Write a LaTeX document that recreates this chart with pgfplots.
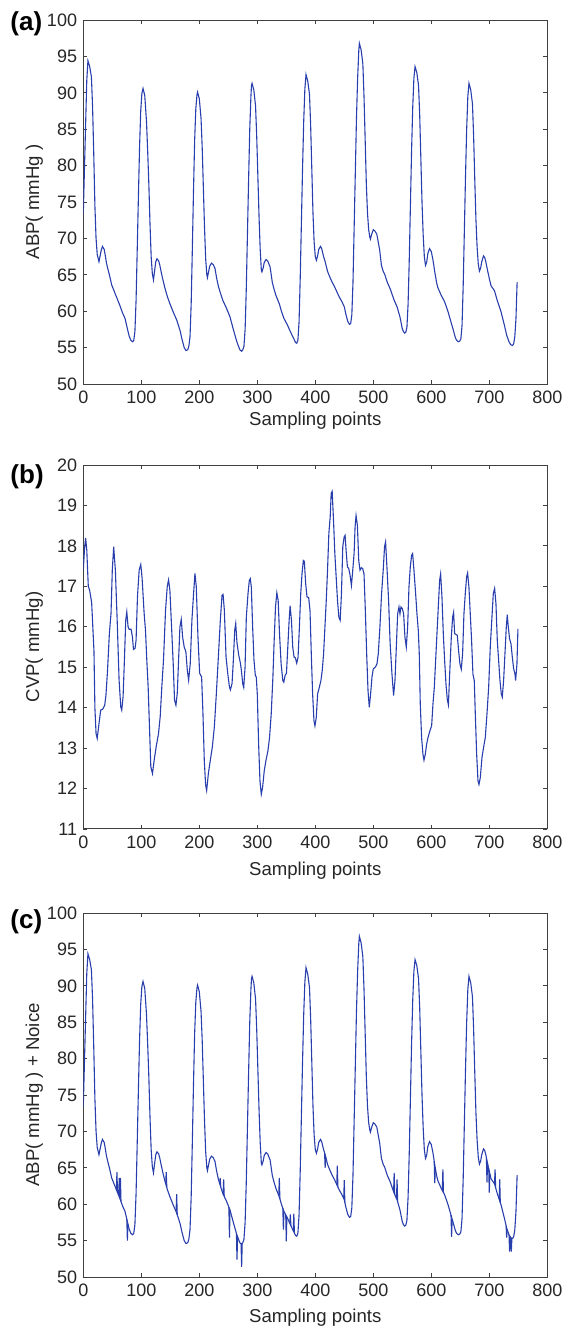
\documentclass[border=0pt]{standalone}
\usepackage{fontspec}
\setmainfont{Liberation Sans}
\usepackage{pgfplots}
\usepackage{pgfplotstable}
\pgfplotsset{compat=1.18}
\definecolor{trace}{RGB}{40,62,172}

% ABP waveform (sample, mmHg)
\pgfplotstableread[row sep=\\]{
x y\\
0 73.4\\ 3 82.6\\ 6 91.7\\ 8 94.4\\ 11 93.6\\ 14 92.2\\ 16 88.1\\ 18 81.7\\ 20 74.5\\ 22 70.0\\ 24 67.8\\ 27 66.8\\ 29 67.6\\ 31 68.4\\ 33 68.9\\ 36 68.5\\ 38 67.6\\ 40 66.6\\ 43 65.6\\ 45 65.0\\ 49 63.6\\ 52 63.0\\ 55 62.4\\ 59 61.6\\ 63 60.8\\ 68 59.7\\ 72 59.0\\ 76 57.6\\ 79 56.6\\ 82 56.0\\ 85 55.8\\ 87 56.0\\ 89 57.2\\
91 61.5\\ 93 68.5\\ 95 75.7\\ 97 82.5\\ 99 87.5\\ 101 89.9\\ 103 90.6\\ 106 89.6\\ 109 86.0\\ 111 82.0\\ 113 77.5\\ 115 72.0\\ 117 67.5\\ 119 65.2\\ 121 64.3\\ 123 65.6\\ 125 66.8\\ 127 67.2\\ 130 66.9\\ 132 66.3\\ 134 65.5\\ 137 64.4\\ 141 63.1\\ 145 62.0\\ 149 61.1\\ 155 59.9\\ 161 58.8\\ 167 57.3\\ 170 56.2\\ 174 55.0\\ 177 54.6\\ 180 54.7\\ 182 55.2\\ 184 56.5\\
186 61.0\\ 188 68.5\\ 190 76.5\\ 192 83.5\\ 194 87.8\\ 196 89.7\\ 197 90.1\\ 200 89.2\\ 203 86.5\\ 205 82.5\\ 207 77.0\\ 209 71.5\\ 211 67.2\\ 213 65.0\\ 214 64.6\\ 216 65.4\\ 218 66.2\\ 221 66.6\\ 224 66.4\\ 227 65.9\\ 230 64.5\\ 233 63.4\\ 236 62.6\\ 241 61.4\\ 247 60.4\\ 253 59.2\\ 258 57.7\\ 264 56.0\\ 267 55.3\\ 270 54.7\\ 273 54.5\\ 275 54.7\\ 277 55.2\\
279 57.5\\ 281 63.0\\ 283 70.5\\ 285 78.0\\ 287 85.0\\ 289 89.5\\ 290 91.0\\ 291 91.3\\ 294 90.4\\ 297 88.2\\ 299 84.0\\ 301 78.5\\ 303 73.0\\ 305 68.5\\ 307 65.6\\ 308 65.4\\ 310 65.9\\ 312 66.7\\ 315 67.1\\ 318 66.9\\ 322 66.1\\ 324 65.0\\ 326 63.9\\ 329 63.0\\ 332 62.2\\ 338 61.0\\ 342 59.9\\ 346 59.0\\ 352 58.1\\ 357 57.2\\ 363 56.2\\ 366 55.7\\ 368 55.6\\
370 56.0\\ 372 58.5\\ 374 64.5\\ 376 72.0\\ 378 79.5\\ 380 86.0\\ 382 90.5\\ 384 92.5\\ 387 91.6\\ 390 89.8\\ 392 85.5\\ 394 79.5\\ 396 73.5\\ 398 69.5\\ 400 67.5\\ 402 67.0\\ 404 67.6\\ 406 68.5\\ 409 68.9\\ 411 68.6\\ 414 67.6\\ 417 66.8\\ 421 65.5\\ 425 64.7\\ 429 64.0\\ 433 63.4\\ 437 62.7\\ 441 62.0\\ 446 61.3\\ 450 60.6\\ 453 59.5\\ 456 58.6\\ 459 58.2\\ 461 58.3\\
463 59.5\\ 465 64.0\\ 467 71.5\\ 469 79.0\\ 471 86.5\\ 473 92.0\\ 475 95.8\\ 476 96.8\\ 479 95.9\\ 482 94.0\\ 484 89.5\\ 486 83.5\\ 488 77.5\\ 490 73.5\\ 492 71.2\\ 494 70.2\\ 495 69.9\\ 497 70.5\\ 500 71.2\\ 503 71.0\\ 506 70.6\\ 509 69.3\\ 511 68.4\\ 514 66.3\\ 517 65.5\\ 520 65.0\\ 524 64.0\\ 529 63.1\\ 536 61.5\\ 541 60.6\\ 546 59.2\\ 550 57.6\\ 552 57.2\\ 554 57.0\\ 556 57.1\\ 558 57.8\\
560 61.0\\ 562 67.0\\ 564 74.5\\ 566 82.0\\ 568 88.0\\ 570 92.0\\ 572 93.6\\ 575 92.8\\ 578 91.0\\ 580 87.0\\ 582 81.0\\ 584 75.0\\ 586 70.5\\ 588 67.5\\ 590 66.3\\ 592 66.7\\ 594 67.9\\ 597 68.6\\ 600 68.2\\ 603 67.0\\ 606 65.4\\ 609 64.0\\ 611 63.3\\ 617 62.2\\ 623 61.3\\ 629 59.9\\ 634 58.5\\ 638 57.4\\ 641 56.5\\ 643 56.1\\ 645 55.9\\ 647 55.8\\ 649 55.9\\ 651 56.2\\
653 58.0\\ 655 63.5\\ 657 71.0\\ 659 78.5\\ 661 85.0\\ 663 89.5\\ 665 91.3\\ 668 90.4\\ 671 88.5\\ 673 84.0\\ 675 78.0\\ 677 72.5\\ 679 68.8\\ 681 66.5\\ 683 65.5\\ 685 65.9\\ 687 66.8\\ 690 67.6\\ 692 67.4\\ 694 66.8\\ 697 65.6\\ 700 64.5\\ 703 63.5\\ 709 62.8\\ 714 61.4\\ 720 60.0\\ 726 58.1\\ 730 56.7\\ 734 55.8\\ 737 55.4\\ 740 55.3\\ 742 55.5\\ 744 56.5\\ 746 59.0\\ 748 64.0\\
}\abp

% CVP waveform (sample, mmHg)
\pgfplotstableread[row sep=\\]{
x y\\
0 17.4\\ 2 17.9\\ 4 18.2\\ 6 17.9\\ 8.6 17.0\\ 11 16.9\\ 14.4 16.6\\ 18.4 15.4\\ 20 14.0\\ 22 13.36\\ 24 13.24\\ 27 13.6\\ 30 13.94\\ 33.4 13.96\\ 36.9 14.06\\ 39 14.3\\ 41.5 14.85\\ 45 15.84\\ 47.8 16.33\\ 50 17.4\\ 52.4 17.98\\ 55.3 17.4\\ 58.8 16.0\\ 61.7 14.68\\ 64.6 14.02\\ 66.3 13.94\\ 68.6 14.27\\ 70.9 15.18\\ 73.2 16.17\\ 75 16.37\\ 77.2 16.0\\ 79 15.94\\ 82.4 15.94\\ 84.7 15.75\\ 86.5 15.44\\ 89.3 15.47\\ 91 15.67\\ 93.4 16.74\\ 96.3 17.4\\ 99.1 17.54\\
101.4 17.2\\ 104.9 16.33\\ 107.2 15.92\\ 109.5 15.18\\ 111.8 14.52\\ 114.1 13.53\\ 116.4 12.54\\ 119.3 12.37\\ 122.2 12.7\\ 125.6 13.03\\ 129.7 13.36\\ 132.6 13.78\\ 135.4 14.52\\ 138.3 15.18\\ 141.8 16.41\\ 144.7 16.99\\ 147 17.16\\ 149.3 16.9\\ 152.2 16.0\\ 155 15.09\\ 157.3 14.19\\ 159.7 14.06\\ 162 14.35\\ 164.3 15.18\\ 166.6 16.0\\ 168.9 16.18\\ 171.2 15.75\\ 174 15.5\\ 176.9 15.38\\ 179.3 14.93\\ 181.6 14.68\\ 184.4 15.09\\ 187.3 16.17\\ 190.2 16.83\\ 192.5 17.32\\ 194.8 16.99\\ 197.7 15.75\\
200.6 14.85\\ 204 14.76\\ 206.3 13.86\\ 208.6 12.7\\ 210.9 12.09\\ 212.7 11.95\\ 215.6 12.37\\ 219 12.7\\ 222.5 13.03\\ 226 13.53\\ 229.4 14.35\\ 232.9 15.26\\ 236.3 16.17\\ 239.2 16.78\\ 241 16.8\\ 243.2 16.41\\ 246.1 15.26\\ 249 14.85\\ 251.9 14.52\\ 253.6 14.44\\ 256.5 14.6\\ 258.8 15.2\\ 261.1 15.92\\ 262.8 16.08\\ 265 15.6\\ 268 15.3\\ 270.9 15.1\\ 272.6 14.92\\ 274.9 14.59\\ 276.6 14.5\\ 278.9 15.0\\ 281.1 16.24\\ 284 16.82\\ 286.3 17.15\\ 288 17.19\\ 289.7 16.98\\ 292 15.99\\ 294.3 15.17\\ 296.6 14.8\\ 298.3 14.75\\
300 14.34\\ 302.3 13.1\\ 304.6 12.19\\ 306.9 11.86\\ 309.1 12.02\\ 312 12.44\\ 314.9 12.69\\ 318.3 12.93\\ 321.1 13.26\\ 324 13.84\\ 326.9 14.75\\ 329.1 15.66\\ 331.4 16.49\\ 333.7 16.84\\ 336 16.65\\ 338.3 15.83\\ 341.1 15.08\\ 344 14.67\\ 345.7 14.63\\ 348 14.8\\ 350.3 14.85\\ 352.6 15.5\\ 354.9 16.16\\ 356.6 16.52\\ 358.9 16.16\\ 361.1 15.5\\ 363.4 15.25\\ 365.7 15.23\\ 368 15.1\\ 370.3 15.25\\ 372.6 15.99\\ 374.9 16.82\\ 377.1 17.31\\ 379.4 17.64\\ 381.1 17.62\\ 383.4 17.07\\ 385.7 16.74\\ 388.6 16.72\\ 390.9 16.4\\ 393.1 15.33\\ 395.4 14.34\\ 397.7 13.68\\
399.4 13.55\\ 401.7 13.76\\ 404 14.34\\ 406.9 14.5\\ 409.7 14.67\\ 412 14.92\\ 414.3 15.33\\ 416.6 15.99\\ 418.9 16.65\\ 421.1 17.4\\ 423.4 18.31\\ 425.7 18.72\\ 427.4 19.3\\ 429.1 19.35\\ 431.4 18.64\\ 433.7 17.81\\ 436 17.23\\ 438.3 16.65\\ 440.6 16.24\\ 442.9 16.16\\ 445.1 16.82\\ 447.4 17.98\\ 449.7 18.22\\ 451.4 18.26\\ 453.1 17.89\\ 455.4 17.48\\ 457.7 17.44\\ 460 17.27\\ 462.3 17.02\\ 464.6 17.4\\ 466.9 17.81\\ 468.6 18.47\\ 470.3 18.75\\ 472.6 18.51\\ 474.9 17.64\\ 477.1 17.4\\ 479.4 17.46\\ 481.7 17.44\\ 484 17.31\\ 486.3 16.4\\ 488.6 15.33\\ 490.9 14.42\\ 493.1 14.01\\ 495.4 14.34\\ 497.7 14.75\\
500 14.96\\ 503.4 15.0\\ 506.3 15.08\\ 508.6 15.33\\ 511.4 15.99\\ 514.3 16.82\\ 517.1 17.4\\ 519.4 17.98\\ 521.2 18.1\\ 523.8 17.4\\ 526.4 16.65\\ 529 15.6\\ 532.2 14.83\\ 535 14.3\\ 537.4 14.67\\ 539.7 15.5\\ 542 16.32\\ 544.3 16.49\\ 546 16.32\\ 547.7 16.49\\ 550 16.45\\ 552.3 16.32\\ 554.6 15.74\\ 556.9 15.5\\ 559.2 15.99\\ 561.5 16.98\\ 563.8 17.48\\ 566.1 17.77\\ 567.8 17.81\\ 570.1 17.4\\ 573 16.82\\ 575.3 16.32\\ 577.6 15.91\\ 579.3 15.33\\ 581 14.09\\ 583.3 13.26\\ 585.6 12.85\\ 587.4 12.7\\ 589.7 12.85\\ 592 13.1\\ 594.3 13.26\\ 597.7 13.43\\
600.6 13.55\\ 602.9 14.09\\ 605.2 14.5\\ 607.5 15.17\\ 609.8 15.83\\ 612.1 16.49\\ 614.4 17.15\\ 616.1 17.31\\ 618.4 16.74\\ 620.7 15.83\\ 623 15.17\\ 625.3 14.59\\ 627.6 14.2\\ 629.5 14.07\\ 632.2 15.0\\ 634.5 15.74\\ 636.8 16.24\\ 638.5 16.36\\ 640.2 15.83\\ 642.5 15.81\\ 644.8 15.79\\ 647.1 15.41\\ 649.4 15.08\\ 651.7 14.95\\ 654 15.33\\ 656.3 16.32\\ 658.6 16.82\\ 660.9 17.23\\ 662.6 17.33\\ 664.9 16.98\\ 667.2 16.32\\ 669.5 15.66\\ 671.8 14.83\\ 674.1 14.67\\ 675.9 13.84\\ 678.2 12.85\\ 680.5 12.19\\ 682.2 12.1\\ 684.5 12.27\\ 687.4 12.77\\ 690.2 13.02\\ 693.1 13.26\\ 696 13.84\\ 698.9 14.5\\
701.7 15.5\\ 704.6 16.24\\ 706.9 16.82\\ 709.2 16.95\\ 711.5 16.57\\ 713.8 15.66\\ 716.1 15.17\\ 718.4 14.67\\ 720.7 14.34\\ 722.4 14.26\\ 724.7 14.67\\ 727 15.33\\ 729.3 15.99\\ 731 16.3\\ 732.8 15.99\\ 735 15.7\\ 737.4 15.58\\ 739.7 15.25\\ 742 14.96\\ 744.3 14.83\\ 745.4 14.67\\ 747.7 15.08\\ 749.4 15.95\\
}\cvp

\pgfplotsset{
  sig/.style={
    width=232pt, height=182pt, scale only axis,
    xmin=0, xmax=800, xtick={0,100,...,800},
    tick align=inside, tick pos=both, major tick length=2pt,
    axis line style={black!75, line width=0.5pt},
    every tick/.style={black!75, line width=0.4pt},
    /pgf/number format/assume math mode=true,
    tick label style={font=\fontsize{9}{10}\selectfont, text=black!85},
    yticklabel style={xshift=0.4pt},
    label style={font=\fontsize{9.3}{11}\selectfont, text=black!85},
    xlabel={Sampling points},
    ylabel style={at={(axis description cs:-0.1056,0.5)}, anchor=center},
  },
}
\tikzset{tag/.style={anchor=west, inner sep=0pt, font=\bfseries\fontsize{13}{15}\selectfont}}

\begin{document}
\begin{tikzpicture}
\path[use as bounding box] (-41.65pt,10pt) rectangle (239.85pt,-655pt);

\begin{axis}[sig, name=pa, at={(0,0)}, anchor=north west,
  ymin=50, ymax=100, ytick={50,55,...,100},
  xlabel style={at={(axis description cs:0.5,-0.1016)}, anchor=center},
  ylabel={ABP( mmHg )}]
\addplot[trace, line width=0.55pt] table[x=x, y=y] {\abp};
\end{axis}
\node[tag] at ([xshift=-36.6pt, yshift=-2pt]pa.north west) {(a)};

\begin{axis}[sig, name=pb, at={(0,-222.5pt)}, anchor=north west,
  ymin=11, ymax=20, ytick={11,12,...,20},
  xlabel style={at={(axis description cs:0.5,-0.1154)}, anchor=center},
  ylabel={CVP( mmHg)}]
\addplot[trace, line width=0.55pt] table[x=x, y=y] {\cvp};
\end{axis}
\node[tag] at ([xshift=-36.6pt, yshift=-6pt]pb.north west) {(b)};

\begin{axis}[sig, name=pc, at={(0,-446.5pt)}, anchor=north west,
  ymin=50, ymax=100, ytick={50,55,...,100},
  xlabel style={at={(axis description cs:0.5,-0.1126)}, anchor=center},
  ylabel={ABP( mmHg ) + Noice}]
\addplot[trace, line width=0.55pt] table[x=x, y=y] {\abp};
% single-sample noise spikes
\addplot[trace, line width=0.55pt, unbounded coords=jump] coordinates {
(57,62.0) (58,64.4) (59,61.6) (59.5,nan)
(61,61.2) (62,63.6) (63,60.8) (64,63.6) (65,60.4) (65.5,nan)
(75,57.95) (76,55.0) (77,57.3) (77.5,nan)
(142,62.8) (143,64.4) (144,62.3) (144.5,nan)
(160,59.0) (161,61.4) (162,58.55) (162.5,nan)
(235,62.8) (236,63.6) (237,62.4) (237.5,nan)
(241,61.4) (242,63.4) (243,61.1) (243.5,nan)
(251,59.6) (252,55.4) (253,59.2) (253.5,nan)
(264,56.0) (265,52.4) (266,55.5) (266.5,nan)
(272,54.6) (273,51.4) (274,54.6) (274.5,nan)
(337,61.2) (338,63.6) (339,60.7) (339.5,nan)
(344,59.45) (345,56.5) (346,59.0) (346.5,nan)
(349,58.55) (350,54.9) (351,58.25) (351.5,nan)
(356,57.4) (357,58.6) (358,57.0) (358.5,nan)
(362,56.35) (363,58.7) (364,56.05) (364.5,nan)
(416,67.0) (417,65.0) (418,66.5) (418.5,nan)
(437,62.7) (438,65.3) (439,62.35) (439.5,nan)
(449,60.8) (450,63.3) (451,60.2) (451.5,nan)
(535,61.7) (536,64.3) (537,61.3) (537.5,nan)
(540,60.8) (541,63.4) (542,60.3) (542.5,nan)
(605,65.9) (606,62.9) (607,64.9) (607.5,nan)
(619,61.9) (620,64.8) (621,61.6) (621.5,nan)
(634,58.5) (635,55.5) (636,57.95) (636.5,nan)
(695,66.4) (696,63.0) (697,65.6) (697.5,nan)
(699,64.9) (700,61.6) (701,64.2) (701.5,nan)
(709,62.8) (710,64.8) (711,62.2) (711.5,nan)
(717,60.7) (718,63.4) (719,60.2) (719.5,nan)
(729,57.05) (730,55.4) (731,56.5) (731.5,nan)
(734,55.8) (735,53.5) (736,55.55) (736.5,nan)
(737,55.4) (738,53.5) (739,55.35)
};
\end{axis}
\node[tag] at ([xshift=-36.6pt, yshift=-4.5pt]pc.north west) {(c)};
\end{tikzpicture}
\end{document}
